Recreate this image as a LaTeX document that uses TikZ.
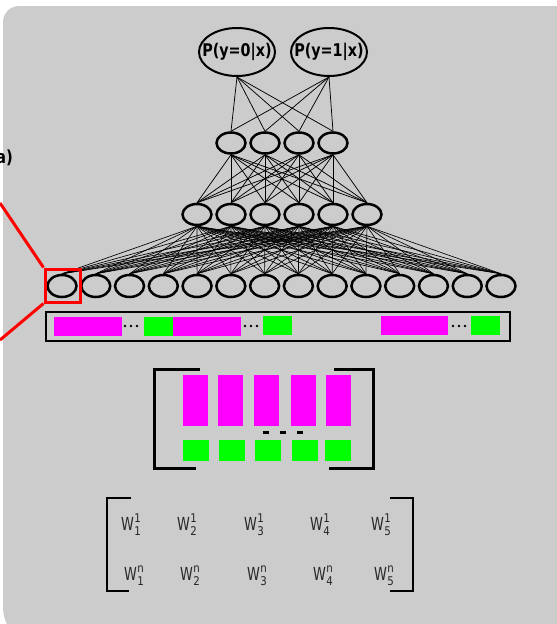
\documentclass[tikz,border=0pt]{standalone}
\usepackage{fontspec}
\usetikzlibrary{shapes.geometric}
\newfontfamily\pfont[FakeStretch=0.82]{DejaVu Sans}
\newfontfamily\wfont[FakeStretch=0.72]{DejaVu Sans}
\newfontfamily\dfont[FakeStretch=0.85]{DejaVu Sans}
\definecolor{bggray}{HTML}{CCCCCC}
\definecolor{mag}{HTML}{FF00FF}
\definecolor{grn}{HTML}{00FF00}
\definecolor{wtext}{HTML}{262626}
\newcommand\wlab[2]{{\wfont\fontsize{18}{18}\selectfont W}\kern0.3pt\rlap{\raisebox{8pt}{\dfont\fontsize{12}{12}\selectfont #1}}\raisebox{-5pt}{\dfont\fontsize{12}{12}\selectfont #2}}
\tikzset{
  neuron/.style={ellipse, draw=black, line width=2.5pt, inner sep=0pt},
  conn/.style={draw=black, line width=0.75pt},
  redline/.style={draw=red, line width=3pt},
  magbox/.style={fill=mag},
  grnbox/.style={fill=grn},
  bracket/.style={draw=black, line width=3pt},
  wnode/.style={anchor=base west, inner sep=0pt, text=wtext},
  dotmark/.style={circle, fill=black, inner sep=0pt, minimum size=2.8pt}
}
\begin{document}
\begin{tikzpicture}[x=1pt,y=1pt]
\useasboundingbox (0,0) rectangle (557,-624);
% background panel
\fill[bggray] (600,-6) -- (19,-6) arc[start angle=90,end angle=180,radius=16] -- (3,-607) arc[start angle=180,end angle=270,radius=40] -- (600,-647) -- cycle;
% partial label at left
\node[anchor=east, inner sep=0pt, font=\pfont\bfseries\fontsize{18}{18}\selectfont] (lab) at (13,-158) {(a)};
% output nodes
\node[neuron, line width=2pt, minimum width=76pt, minimum height=48pt] (o1) at (237,-52) {};
\node[neuron, line width=2pt, minimum width=76pt, minimum height=48pt] (o2) at (329,-52) {};
\node[inner sep=0pt, font=\pfont\bfseries\fontsize{17.5}{17.5}\selectfont] (t1) at (o1) {P(y=0|x)};
\node[inner sep=0pt, font=\pfont\bfseries\fontsize{17.5}{17.5}\selectfont] (t2) at (o2) {P(y=1|x)};
% hidden layer 2
\foreach \k in {1,...,4}
  \node[neuron, minimum width=29pt, minimum height=21pt] (b\k) at ({231+34*(\k-1)},-143) {};
% hidden layer 1
\foreach \k in {1,...,6}
  \node[neuron, minimum width=29pt, minimum height=21pt] (a\k) at ({197+34*(\k-1)},-214.5) {};
% input layer
\foreach \k in {1,...,14}
  \node[neuron, minimum width=29pt, minimum height=22pt] (i\k) at ({62+33.77*(\k-1)},-286) {};
% connections
\foreach \p in {1,2}
  \foreach \q in {1,...,4}
    \draw[conn] (o\p.south) -- (b\q.north);
\foreach \p in {1,...,4}
  \foreach \q in {1,...,6}
    \draw[conn] (b\p.south) -- (a\q.north);
\foreach \p in {1,...,6}
  \foreach \q in {1,...,14}
    \draw[conn, line width=0.65pt] (a\p.south) -- (i\q.north);
% red highlight
\node[draw=red, line width=3pt, minimum width=35pt, minimum height=33pt, inner sep=0pt] (rb) at (62.5,-285.5) {};
\coordinate (r1) at (0,-203);
\coordinate (r2) at (0,-340);
\draw[redline] (r1) -- (rb.north west);
\draw[redline] (rb.south west) -- (r2);
% input bar
\draw[black, line width=2.5pt] (46,-312) rectangle (510,-341);
\fill[magbox] (54,-317) rectangle (122,-336);
\fill[grnbox] (144,-317) rectangle (173,-336);
\fill[magbox] (173,-317) rectangle (241,-336);
\fill[grnbox] (263,-316) rectangle (292,-335);
\fill[magbox] (381,-316) rectangle (448,-335);
\fill[grnbox] (471,-316) rectangle (500,-335);
\foreach \x in {125,131,137,245,251,257,453,459,465}
  \node[dotmark] at (\x,-326) {};
% block matrix
\draw[bracket] (200,-369) -- (154,-369) -- (154,-468) -- (196,-468);
\draw[bracket] (334,-369) -- (373,-369) -- (373,-468) -- (329,-468);
\foreach \x in {183,218,254,291,326}
  \fill[magbox] (\x,-375) rectangle ++(25,-51);
\foreach \x in {183,219,255,292,325}
  \fill[grnbox] (\x,-440) rectangle ++(25.5,-21);
\foreach \x in {266,283,300}
  \fill[black] (\x-3,-430.5) rectangle ++(6,-3);
% weight matrix
\draw[bracket, line width=2.5pt] (131,-498) -- (107,-498) -- (107,-591) -- (129,-591);
\draw[bracket, line width=2.5pt] (390,-498) -- (413,-498) -- (413,-591) -- (390,-591);
\node[wnode] (w11) at (121,-530) {\wlab{1}{1}};
\node[wnode] (w12) at (177,-530) {\wlab{1}{2}};
\node[wnode] (w13) at (244,-530) {\wlab{1}{3}};
\node[wnode] (w14) at (310,-530) {\wlab{1}{4}};
\node[wnode] (w15) at (371,-530) {\wlab{1}{5}};
\node[wnode] (wn1) at (124,-580) {\wlab{n}{1}};
\node[wnode] (wn2) at (180,-580) {\wlab{n}{2}};
\node[wnode] (wn3) at (247,-580) {\wlab{n}{3}};
\node[wnode] (wn4) at (313,-580) {\wlab{n}{4}};
\node[wnode] (wn5) at (374,-580) {\wlab{n}{5}};
\end{tikzpicture}
\end{document}
